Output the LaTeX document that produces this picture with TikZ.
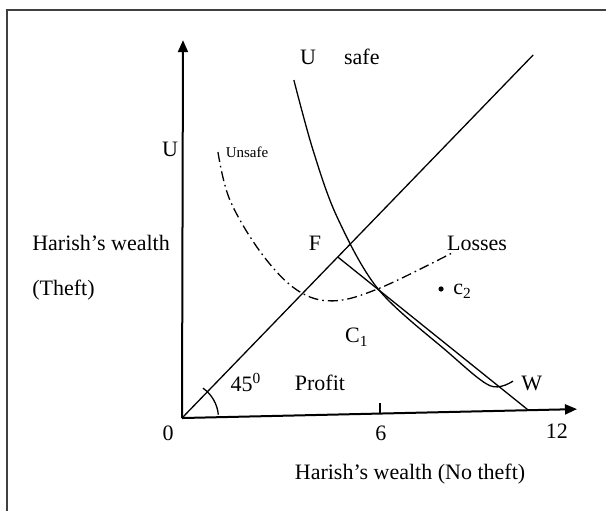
\documentclass[tikz,border=0pt]{standalone}
\usepackage{fontspec}
\setmainfont{Liberation Serif}
\usetikzlibrary{arrows.meta}

\begin{document}
\begin{tikzpicture}[x=16.5pt, y=16.5pt, >={Triangle[length=6pt,width=5pt]},
    every node/.style={font=\fontsize{11}{13}\selectfont},
    curve/.style={line width=0.65pt},
    axis/.style={line width=1pt},
    dashdot/.style={line width=0.65pt, dash pattern=on 5pt off 2pt on 0.8pt off 2pt}]
    \useasboundingbox (-5.515,-2.818) rectangle (12.848,12.667);

    % frame
    \draw[black!75, line width=1pt] (12.848,12.35) -- (-5.3,12.35) -- (-5.3,-2.818);

    % axes
    \coordinate (O) at (0,0);
    \coordinate (xend) at (11.97,0.27);
    \coordinate (yend) at (0.03,11.45);
    \draw[axis, ->] (O) -- (xend);
    \draw[axis, ->] (O) -- (yend);
    \coordinate (tickA) at (6,0.14);
    \coordinate (tickB) at (6,0.45);
    \draw[curve] (tickA) -- (tickB);
    \node (zero) at (-0.42,-0.45) {0};
    \node (six) at (6.03,-0.45) {6};
    \node (twelve) at (11.36,-0.4) {12};
    \node (xlabel) at (6.91,-1.7) {Harish’s wealth (No theft)};
    \node[anchor=west] (ylabel) at (-4.75,5.3) {Harish’s wealth};
    \node[anchor=west] (ytheft) at (-4.75,3.88) {(Theft)};
    \node (ulabel) at (-0.36,8.15) {U};

    % 45 degree line
    \coordinate (diagend) at (10.64,11.0);
    \draw[curve] (O) -- (diagend);
    \draw[curve] (1.1,0.1) arc (5:55:1.1);
    \node (angle) at (1.94,1.08) {45\textsuperscript{0}};

    % budget line from F
    \coordinate (F) at (4.72,4.88);
    \coordinate (bend) at (10.48,0.25);
    \draw[curve] (F) -- (bend);
    \node (flabel) at (4.03,5.3) {F};

    % safe indifference curve
    \draw[curve] plot[smooth, tension=0.55] coordinates {(3.39,10.24) (3.97,8.12) (4.7,6.09)
        (5.95,3.9) (8.03,2.02) (9.33,0.98) (10.03,1.12)};
    \node (usafe) at (3.82,10.94) {U};
    \node (safe) at (5.45,10.94) {safe};
    \node (wlabel) at (10.6,1.06) {W};

    % unsafe indifference curve
    \draw[dashdot] plot[smooth, tension=0.6] coordinates {(1.09,8.06) (1.45,6.61) (2.4,5.0)
        (3.48,3.88) (4.58,3.55) (6,3.94) (8.18,5.0)};
    \node[font=\fontsize{7.5}{9}\selectfont] (unsafe) at (1.97,8.06) {Unsafe};
    \node (losses) at (8.94,5.3) {Losses};

    % points and regions
    \fill (7.85,3.91) circle (1.3pt);
    \node (c2) at (8.5,3.84) {c\textsubscript{2}};
    \node (c1) at (5.3,2.45) {C\textsubscript{1}};
    \node (profit) at (4.18,1.08) {Profit};
\end{tikzpicture}
\end{document}
